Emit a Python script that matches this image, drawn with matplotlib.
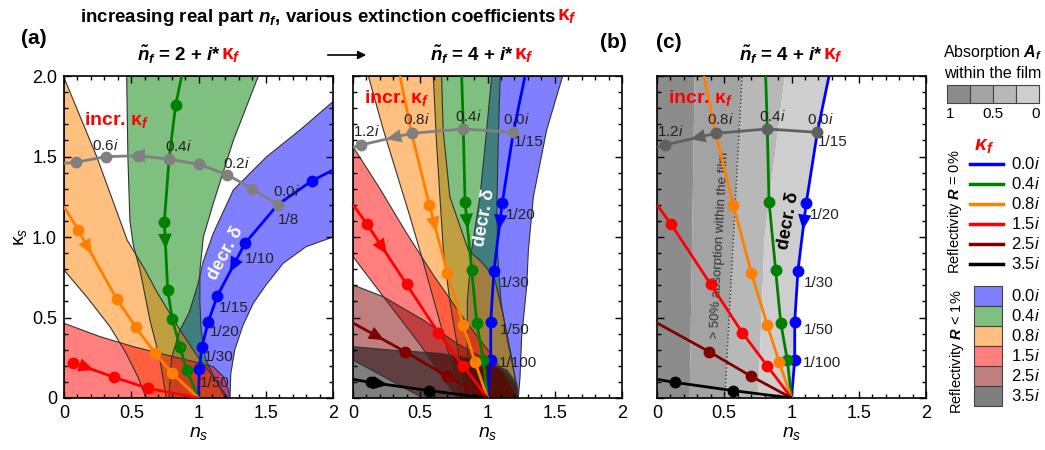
import numpy as np
import matplotlib.pyplot as plt
from matplotlib.patches import Polygon, Rectangle
from matplotlib.ticker import MultipleLocator

plt.rcParams['font.family'] = ['Liberation Sans', 'DejaVu Sans']
plt.rcParams['mathtext.fontset'] = 'custom'
plt.rcParams['mathtext.rm'] = 'Liberation Sans'
plt.rcParams['mathtext.it'] = 'Liberation Sans:italic'
plt.rcParams['mathtext.bf'] = 'Liberation Sans:italic:bold'

KF = 'κ$_\\mathbf{f}$'

# ---------------- data (n_s, kappa_s) ----------------
kappa_labels = ['0.0i', '0.4i', '0.8i', '1.5i', '2.5i', '3.5i']
kappa_colors = ['#0000ff', '#008000', '#ff8000', '#ff0000', '#800000', '#000000']

# panel (a): n_f = 2
gray_a_ns = [0.0, 0.089, 0.312, 0.548, 0.781, 1.004, 1.212, 1.400, 1.589]
gray_a_ks = [1.458, 1.464, 1.499, 1.505, 1.484, 1.451, 1.387, 1.300, 1.201]
gray_a_text = ['0.6$i$', '0.4$i$', '0.2$i$', '0.0$i$']
blue_a_ns = [1.0, 1.006, 1.024, 1.073, 1.140, 1.346, 1.589, 1.841, 2.0]
blue_a_ks = [0.0, 0.180, 0.315, 0.474, 0.634, 0.961, 1.201, 1.348, 1.416]
green_a_ns = [1.0, 0.912, 0.862, 0.805, 0.771, 0.746, 0.781, 0.830, 0.875]
green_a_ks = [0.0, 0.174, 0.319, 0.489, 0.671, 1.095, 1.484, 1.820, 2.0]
orange_a_ns = [1.0, 0.805, 0.677, 0.535, 0.392, 0.107, 0.0]
orange_a_ks = [0.0, 0.153, 0.277, 0.439, 0.615, 1.041, 1.19]
red_a_ns = [1.0, 0.627, 0.374, 0.069]
red_a_ks = [0.0, 0.060, 0.128, 0.219]
delta_a_text = ['1/8', '1/10', '1/15', '1/20', '1/30', '1/50']

# R < 1% bands, panel (a)
band_blue_a_ns = [2.0, 1.755, 1.507, 1.259, 1.11, 1.036, 0.99, 0.93, 0.862, 0.80, 0.78,
                  1.234, 1.24, 1.27, 1.33, 1.407, 1.5, 1.63, 1.8, 2.0]
band_blue_a_ks = [1.841, 1.665, 1.499, 1.292, 1.023, 0.85, 0.69, 0.53, 0.422, 0.25, 0.0,
                  0.0, 0.15, 0.3, 0.45, 0.588, 0.7, 0.837, 0.94, 1.0]
band_green_a_ns = [0.466, 0.475, 0.49, 0.515, 0.565, 0.639, 0.714, 0.76,
                   1.22, 1.12, 1.05, 1.02, 1.01, 1.011, 1.036, 1.11, 1.259, 1.445]
band_green_a_ks = [2.0, 1.5, 1.1, 0.95, 0.795, 0.484, 0.236, 0.0,
                   0.0, 0.12, 0.25, 0.42, 0.6, 0.795, 1.0, 1.209, 1.6, 2.0]
band_orange_a_ns = [0.0, 0.243, 0.47, 0.6, 0.69, 0.862, 1.011, 1.13, 1.2,
                    0.61, 0.55, 0.46, 0.342, 0.168, 0.0]
band_orange_a_ks = [1.99, 1.5, 0.98, 0.8, 0.66, 0.422, 0.236, 0.11, 0.0,
                    0.0, 0.13, 0.28, 0.443, 0.629, 0.795]
band_red_a_ns = [0.0, 0.268, 0.515, 0.763, 0.962, 1.110, 1.184, 1.222, 1.234, 0.0]
band_red_a_ks = [0.464, 0.381, 0.319, 0.267, 0.226, 0.195, 0.133, 0.05, 0.0, 0.0]

# panels (b) and (c): n_f = 4
gray_b_ns = [0.0, 0.057, 0.436, 0.820, 1.192]
gray_b_ks = [1.555, 1.571, 1.644, 1.671, 1.650]
gray_b_text = ['1.2$i$', '0.8$i$', '0.4$i$', '0.0$i$']
blue_b_ns = [1.0, 1.024, 1.024, 1.048, 1.110, 1.192, 1.279]
blue_b_ks = [0.0, 0.236, 0.474, 0.791, 1.213, 1.650, 2.0]
green_b_ns = [1.0, 0.969, 0.920, 0.882, 0.833, 0.820, 0.808]
green_b_ks = [0.0, 0.236, 0.468, 0.795, 1.219, 1.671, 2.0]
orange_b_ns = [1.0, 0.907, 0.820, 0.701, 0.568, 0.436, 0.349]
orange_b_ks = [0.0, 0.226, 0.453, 0.778, 1.199, 1.644, 2.0]
red_b_ns = [1.0, 0.820, 0.634, 0.399, 0.102, 0.0]
red_b_ks = [0.0, 0.199, 0.406, 0.706, 1.083, 1.20]
dred_b_ns = [1.0, 0.696, 0.387, 0.0]
dred_b_ks = [0.0, 0.137, 0.288, 0.466]
black_b_ns = [1.0, 0.565, 0.131, 0.0]
black_b_ks = [0.0, 0.046, 0.097, 0.116]
delta_b_text = ['1/15', '1/20', '1/30', '1/50', '1/100']

# R < 1% bands, panel (b)
band_blue_b_ns = [1.031, 0.994, 0.944, 0.882, 0.85, 0.85, 0.88,
                  1.229, 1.242, 1.254, 1.291, 1.304, 1.341, 1.44, 1.559]
band_blue_b_ks = [2.0, 1.665, 1.25, 0.919, 0.6, 0.3, 0.0,
                  0.0, 0.133, 0.381, 0.691, 0.919, 1.25, 1.665, 2.0]
band_green_b_ns = [0.597, 0.62, 0.65, 0.672, 0.72, 0.78, 0.83,
                   1.229, 1.2, 1.15, 1.1, 1.075, 1.07, 1.08, 1.094]
band_green_b_ks = [2.0, 1.6, 1.2, 0.919, 0.6, 0.3, 0.0,
                   0.0, 0.15, 0.35, 0.6, 0.9, 1.2, 1.6, 2.0]
band_orange_b_ns = [0.114, 0.226, 0.325, 0.424, 0.52, 0.62, 0.72, 0.79,
                    1.229, 1.18, 1.12, 1.05, 0.95, 0.857, 0.72, 0.67, 0.659]
band_orange_b_ks = [2.0, 1.665, 1.395, 1.126, 0.85, 0.55, 0.25, 0.0,
                    0.0, 0.25, 0.5, 0.75, 0.85, 0.919, 1.25, 1.665, 2.0]
band_red_b_ns = [0.0, 0.2, 0.399, 0.6, 0.8, 1.0, 1.15, 1.229, 0.771, 0.5, 0.226, 0.0]
band_red_b_ks = [1.561, 1.3, 1.023, 0.76, 0.52, 0.3, 0.12, 0.0, 0.0, 0.33, 0.629, 0.878]
band_dred_b_ns = [0.0, 0.226, 0.523, 0.771, 0.994, 1.143, 1.217, 1.229, 0.52, 0.0]
band_dred_b_ks = [0.702, 0.629, 0.484, 0.34, 0.236, 0.153, 0.07, 0.0, 0.0, 0.236]
band_black_b_ns = [0.0, 0.275, 0.647, 0.944, 1.143, 1.217, 1.229, 0.0]
band_black_b_ks = [0.319, 0.298, 0.277, 0.236, 0.174, 0.091, 0.0, 0.0]

# panel (c): absorption within the film, borders between the gray levels
absorb_scale = ['1', '0.5', '0']
absorb_b1_ns = [0.243, 0.28]
absorb_b1_ks = [0.0, 2.0]
half_absorb_ns = [0.504, 0.633]   # 50 % line (dotted)
half_absorb_ks = [0.0, 2.0]
absorb_b3_ns = [0.752, 0.80, 0.951]
absorb_b3_ks = [0.0, 1.0, 2.0]

# ---------------- figure ----------------
W, H = 1045, 450
fig = plt.figure(figsize=(W / 100, H / 100), dpi=100)


def px_axes(l, t, r, b):
    return fig.add_axes([l / W, 1 - b / H, (r - l) / W, (b - t) / H])


ax_a = px_axes(64, 76, 333, 398)
ax_b = px_axes(353, 76, 622, 398)
ax_c = px_axes(657, 76, 926, 398)

edge = '#333333'


def band(ax, ns, ks, color):
    ax.add_patch(Polygon(np.column_stack([ns, ks]), closed=True,
                         facecolor=color, alpha=0.5, edgecolor='none', zorder=1))
    ax.add_patch(Polygon(np.column_stack([ns, ks]), closed=True,
                         facecolor='none', edgecolor=edge, lw=0.8, zorder=1.5))


def curve(ax, ns, ks, color, marks, lw=2.0, ms=7.5):
    ax.plot(ns, ks, color=color, lw=lw, zorder=4, solid_capstyle='butt')
    ax.plot([ns[i] for i in marks], [ks[i] for i in marks], 'o', color=color,
            ms=ms, zorder=5)


def arrow(ax, ns, ks, seg, t, color, scale=22):
    # head placed on segment seg..seg+1, pointing from point seg+1 towards point seg
    x0, y0 = ns[seg + 1], ks[seg + 1]
    x1 = x0 + t * (ns[seg] - x0)
    y1 = y0 + t * (ks[seg] - y0)
    ax.annotate('', xy=(x1, y1), xytext=(x0, y0),
                arrowprops=dict(arrowstyle='-|>,head_length=0.5,head_width=0.22',
                                color=color, lw=0, mutation_scale=scale,
                                shrinkA=0, shrinkB=0),
                zorder=6)


for ax in (ax_a, ax_b, ax_c):
    ax.set_xlim(0, 2)
    ax.set_ylim(0, 2)
    ax.set_xticks([0, 0.5, 1, 1.5, 2])
    ax.set_xticklabels(['0', '0.5', '1', '1.5', '2'])
    ax.set_yticks([0, 0.5, 1, 1.5, 2])
    ax.xaxis.set_minor_locator(MultipleLocator(0.1))
    ax.yaxis.set_minor_locator(MultipleLocator(0.1))
    ax.tick_params(which='both', direction='in', top=True, right=True,
                   labelsize=13, width=1.0, pad=5)
    ax.tick_params(which='major', length=5)
    ax.tick_params(which='minor', length=3)
    for s in ax.spines.values():
        s.set_linewidth(1.2)
    ax.set_xlabel('$n_s$', fontsize=14, labelpad=2)

ax_a.set_yticklabels(['0', '0.5', '1.0', '1.5', '2.0'])
ax_a.set_ylabel('κ$_s$', fontsize=14, labelpad=2)
ax_b.set_yticklabels([])
ax_c.set_yticklabels([])

# ---- panel (a)
band(ax_a, band_blue_a_ns, band_blue_a_ks, kappa_colors[0])
band(ax_a, band_green_a_ns, band_green_a_ks, kappa_colors[1])
band(ax_a, band_orange_a_ns, band_orange_a_ks, kappa_colors[2])
band(ax_a, band_red_a_ns, band_red_a_ks, kappa_colors[3])

curve(ax_a, blue_a_ns, blue_a_ks, kappa_colors[0], [1, 2, 3, 4, 5, 7])
curve(ax_a, green_a_ns, green_a_ks, kappa_colors[1], [1, 2, 3, 4, 5, 7])
curve(ax_a, orange_a_ns, orange_a_ks, kappa_colors[2], [1, 2, 3, 4, 5])
curve(ax_a, red_a_ns, red_a_ks, kappa_colors[3], [1, 2, 3])
curve(ax_a, gray_a_ns, gray_a_ks, '#808080', range(1, 9))
arrow(ax_a, blue_a_ns, blue_a_ks, 4, 0.55, kappa_colors[0])
arrow(ax_a, green_a_ns, green_a_ks, 4, 0.4, kappa_colors[1])
arrow(ax_a, orange_a_ns, orange_a_ks, 4, 0.35, kappa_colors[2])
arrow(ax_a, red_a_ns, red_a_ks, 2, 0.5, kappa_colors[3])
arrow(ax_a, gray_a_ns, gray_a_ks, 2, 0.25, '#808080')

for txt, (x, y) in zip(gray_a_text, [(0.312, 1.571), (0.85, 1.561), (1.284, 1.458), (1.655, 1.282)]):
    ax_a.text(x, y, txt, fontsize=11, ha='center', va='center', color='#222222', zorder=7)
for txt, (x, y) in zip(delta_a_text, [(1.668, 1.106), (1.457, 0.861), (1.259, 0.557),
                                      (1.197, 0.412), (1.147, 0.257), (1.123, 0.091)]):
    ax_a.text(x, y, txt, fontsize=11, ha='center', va='center', color='#222222', zorder=7)
ax_a.text(0.15, 1.727, 'incr. ' + KF, color='red', fontsize=14,
          fontweight='bold', ha='left', va='center', zorder=7)
ax_a.text(1.2, 0.9, 'decr. δ', color='white', fontsize=13,
          fontweight='bold', ha='center', va='center', rotation=62, zorder=7)

# ---- panel (b)
band(ax_b, band_blue_b_ns, band_blue_b_ks, kappa_colors[0])
band(ax_b, band_green_b_ns, band_green_b_ks, kappa_colors[1])
band(ax_b, band_orange_b_ns, band_orange_b_ks, kappa_colors[2])
band(ax_b, band_red_b_ns, band_red_b_ks, kappa_colors[3])
band(ax_b, band_dred_b_ns, band_dred_b_ks, kappa_colors[4])
band(ax_b, band_black_b_ns, band_black_b_ks, kappa_colors[5])


def nf4_lines(ax, gray_color, with_arrows):
    curve(ax, blue_b_ns, blue_b_ks, kappa_colors[0], [1, 2, 3, 4])
    curve(ax, green_b_ns, green_b_ks, kappa_colors[1], [1, 2, 3, 4])
    curve(ax, orange_b_ns, orange_b_ks, kappa_colors[2], [1, 2, 3, 4])
    curve(ax, red_b_ns, red_b_ks, kappa_colors[3], [1, 2, 3, 4])
    curve(ax, dred_b_ns, dred_b_ks, kappa_colors[4], [1, 2])
    curve(ax, black_b_ns, black_b_ks, kappa_colors[5], [1, 2])
    curve(ax, gray_b_ns, gray_b_ks, gray_color, [1, 2, 3, 4])
    arrow(ax, blue_b_ns, blue_b_ks, 3, 0.4, kappa_colors[0])
    arrow(ax, gray_b_ns, gray_b_ks, 1, 0.5, gray_color)
    if with_arrows:
        arrow(ax, green_b_ns, green_b_ks, 3, 0.4, kappa_colors[1])
        arrow(ax, orange_b_ns, orange_b_ks, 3, 0.4, kappa_colors[2])
        arrow(ax, red_b_ns, red_b_ks, 3, 0.5, kappa_colors[3])
        arrow(ax, dred_b_ns, dred_b_ks, 2, 0.6, kappa_colors[4])
        arrow(ax, black_b_ns, black_b_ks, 1, 0.3, kappa_colors[5])
    for txt, (x, y) in zip(gray_b_text, [(0.1, 1.654), (0.47, 1.727), (0.857, 1.747), (1.217, 1.727)]):
        ax.text(x, y, txt, fontsize=11, ha='center', va='center', color='#222222', zorder=7)
    for txt, (x, y) in zip(delta_b_text, [(1.31, 1.592), (1.25, 1.137), (1.2, 0.712),
                                          (1.2, 0.422), (1.23, 0.215)]):
        ax.text(x, y, txt, fontsize=11, ha='center', va='center', color='#222222', zorder=7)
    ax.text(0.08, 1.861, 'incr. ' + KF, color='red', fontsize=14,
            fontweight='bold', ha='left', va='center', zorder=7)


nf4_lines(ax_b, '#808080', True)
ax_b.text(0.98, 1.12, 'decr. δ', color='white', fontsize=13,
          fontweight='bold', ha='center', va='center', rotation=80, zorder=7)

# ---- panel (c)
abs_colors = ['#8c8c8c', '#a3a3a3', '#b8b8b8', '#cecece']
b1 = list(zip(absorb_b1_ns, absorb_b1_ks))
b2 = list(zip(half_absorb_ns, half_absorb_ks))
b3 = list(zip(absorb_b3_ns, absorb_b3_ks))
b4 = list(zip(blue_b_ns, blue_b_ks))
regions = [[(0, 0)] + b1 + [(0, 2)], b1 + b2[::-1], b2 + b3[::-1], b3 + b4[::-1]]
for poly, c in zip(regions, abs_colors):
    ax_c.add_patch(Polygon(poly, closed=True, facecolor=c, edgecolor='none', zorder=1))
ax_c.plot(half_absorb_ns, half_absorb_ks, ls=':', color='#333333', lw=1.0, zorder=2)
ax_c.text(0.47, 0.95, '> 50% absorption within the film', fontsize=9.5, color='#333333',
          rotation=87, ha='center', va='center', zorder=3)
nf4_lines(ax_c, '#606060', False)
ax_c.text(0.975, 1.1, 'decr. δ', color='black', fontsize=13,
          fontweight='bold', ha='center', va='center', rotation=80, zorder=7)

# ---------------- overlay: titles, panel letters, legend (pixel coords) ----------------
ov = fig.add_axes([0, 0, 1, 1], zorder=10)
ov.set_xlim(0, W)
ov.set_ylim(H, 0)
ov.axis('off')

ov.text(557, 17, r'increasing real part $\mathbf{n_f}$, various extinction coefficients ',
        fontsize=13.5, fontweight='bold', ha='right', va='center')
ov.text(557, 17, KF, fontsize=15, color='red', fontweight='bold', ha='left', va='center')

for xr, txt in [(221, r'$\mathbf{\tilde{n}_f}$ = 2 + $\mathbf{i}$*'),
                (514, r'$\mathbf{\tilde{n}_f}$ = 4 + $\mathbf{i}$*'),
                (823, r'$\mathbf{\tilde{n}_f}$ = 4 + $\mathbf{i}$*')]:
    ov.text(xr, 55, txt, fontsize=13.5, fontweight='bold', ha='right', va='center')
    ov.text(xr, 56, KF, fontsize=15, color='red', fontweight='bold', ha='left', va='center')
ov.annotate('', xy=(369, 55), xytext=(325, 55),
            arrowprops=dict(arrowstyle='-|>', color='black', lw=1.2, mutation_scale=12))

for x, y, t in [(34, 39, '(a)'), (613, 43, '(b)'), (669, 43, '(c)')]:
    ov.text(x, y, t, fontsize=15, fontweight='bold', ha='center', va='center')

# absorption scale
ov.text(993, 53, r'Absorption $\mathbf{A_f}$', fontsize=11.5, ha='center', va='center')
ov.text(993, 73, 'within the film', fontsize=11.5, ha='center', va='center')
for i, c in enumerate(abs_colors):
    ov.add_patch(Rectangle((947 + 23 * i, 85), 23, 18, facecolor=c, edgecolor='#444444', lw=0.8))
for x, t in zip([950, 993, 1036], absorb_scale):
    ov.text(x, 114, t, fontsize=11, ha='center', va='center')

# kappa legend
ov.text(984, 146, r'$\mathbf{\kappa_f}$', fontsize=15, color='red', ha='center', va='center')
for i, (lab, c) in enumerate(zip(kappa_labels, kappa_colors)):
    y = 164 + 20 * i
    ov.plot([970, 1003], [y, y], color=c, lw=2.5)
    ov.text(1011, y, lab[:-1] + '$i$', fontsize=12, ha='left', va='center')
for i, (lab, c) in enumerate(zip(kappa_labels, kappa_colors)):
    y = 286 + 20 * i
    ov.add_patch(Rectangle((974, y), 28, 19.5, facecolor=c, alpha=0.5, edgecolor='none'))
    ov.add_patch(Rectangle((974, y), 28, 19.5, facecolor='none', edgecolor='#444444', lw=0.8))
    ov.text(1011, y + 10, lab[:-1] + '$i$', fontsize=12, ha='left', va='center')
ov.text(955, 212, r'Reflectivity $\mathbf{R}$ = 0%', fontsize=10.5, rotation=90,
        ha='center', va='center')
ov.text(957, 352, r'Reflectivity $\mathbf{R}$ < 1%', fontsize=10.5, rotation=90,
        ha='center', va='center')

fig.savefig('out.png', dpi=100)
